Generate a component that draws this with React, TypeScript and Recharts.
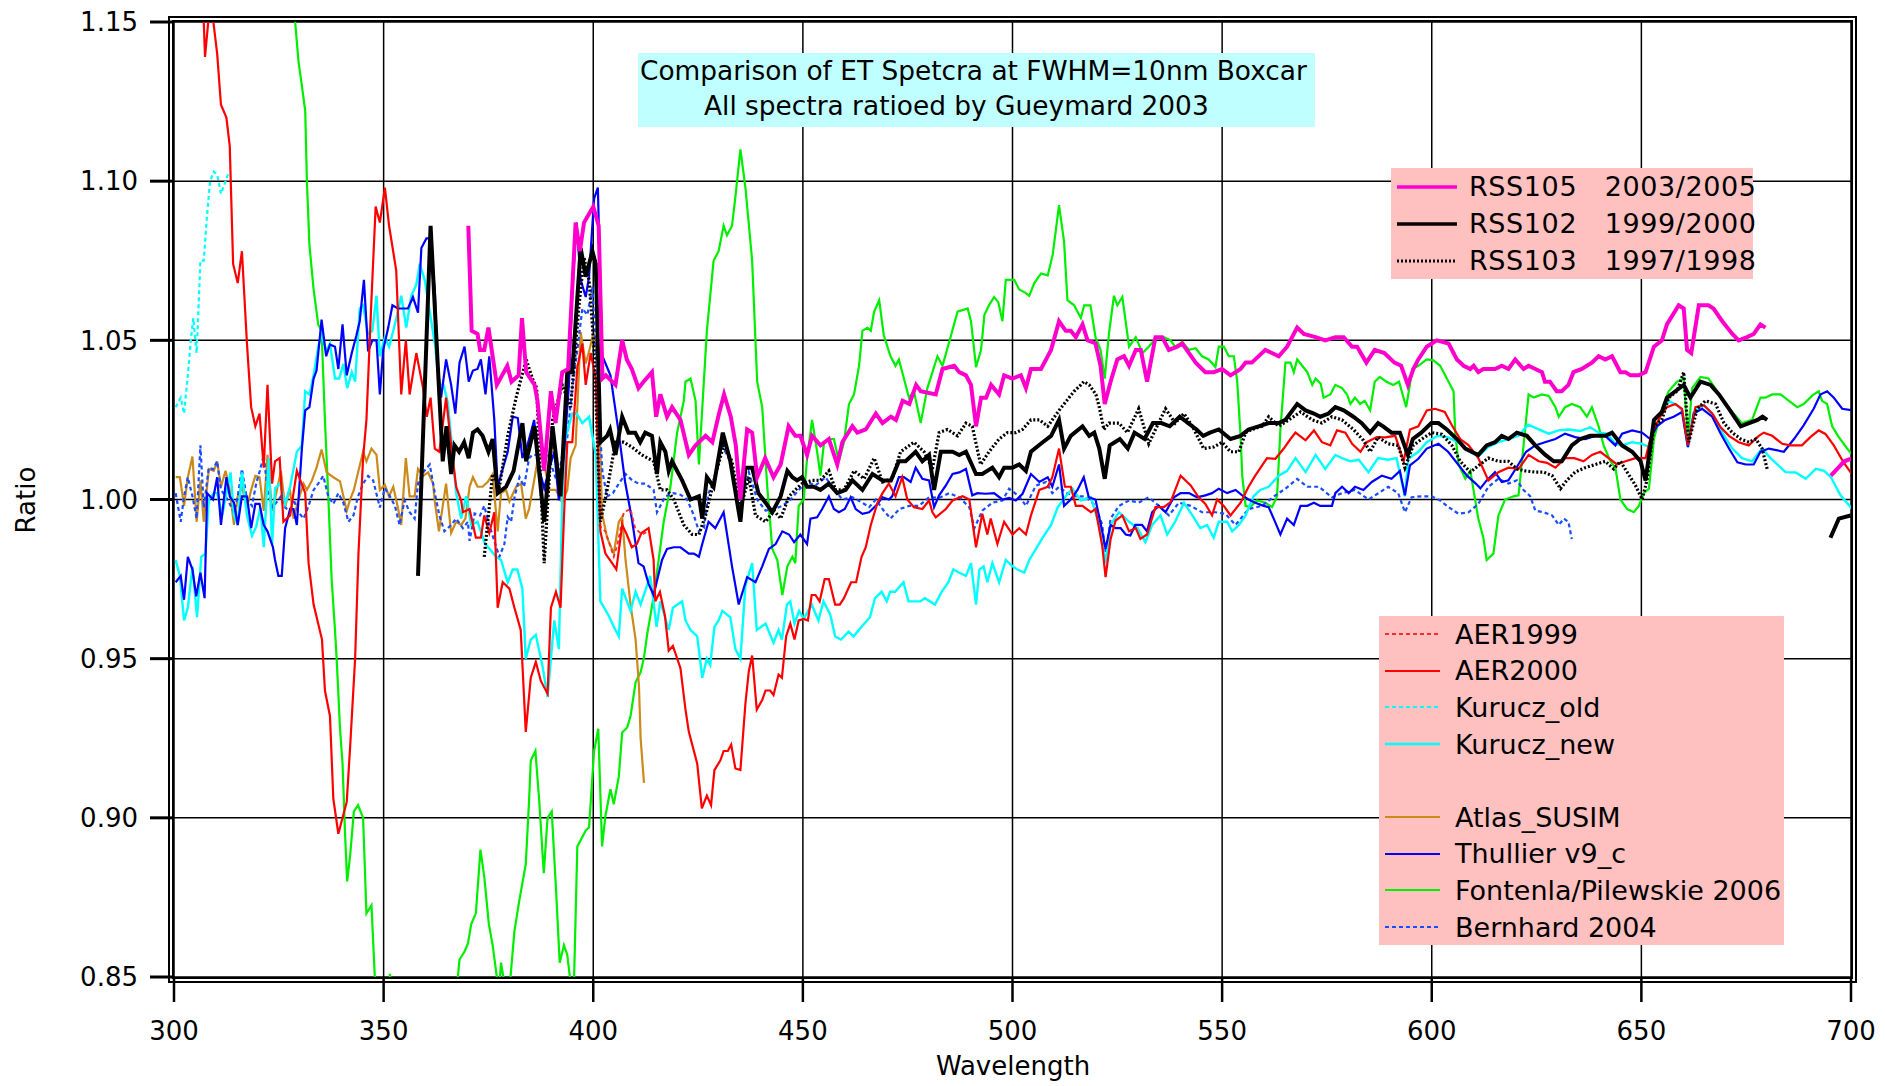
import { CartesianGrid, Line, LineChart, XAxis, YAxis } from 'recharts';

type Pt = [number, number | null];

const WL_TICKS = [300, 350, 400, 450, 500, 550, 600, 650, 700];
const RATIO_TICKS = [0.85, 0.9, 0.95, 1.0, 1.05, 1.1, 1.15];

// [wavelength nm, ratio]; null breaks the line
const RSS105: Pt[] = [
  [370.2,1.086],[371,1.053],[372.4,1.052],[373,1.047],[374,1.047],[375,1.054],[377,1.036],[379.5,1.042],[380.5,1.037],[382.2,1.039],
  [383,1.057],[384,1.040],[386,1.036],[386.7,1.031],[388.3,1.009],[389.9,1.034],[391,1.024],[392.6,1.040],[394,1.041],[395.8,1.087],
  [396.8,1.078],[397.8,1.087],[400,1.092],[401.3,1.086],[402.2,1.038],[403,1.039],[405.3,1.036],[406.9,1.050],[408,1.044],[409.2,1.041],
  [410.8,1.035],[412,1.037],[414,1.040],[415,1.026],[416,1.033],[417.6,1.026],[418.8,1.029],[420.8,1.025],[422.8,1.014],[424.4,1.017],
  [426.8,1.020],[428.4,1.018],[430,1.027],[431.2,1.033],[432.8,1.026],[434,1.017],[435.1,1.000],[436.7,1.022],[437.9,1.021],[439.1,1.007],
  [441,1.013],[443,1.007],[444.7,1.011],[446.6,1.023],[448.2,1.020],[449.4,1.020],[451,1.014],[452.2,1.020],[454.2,1.017],[456.2,1.019],
  [458.2,1.011],[459.4,1.018],[461.8,1.023],[463,1.021],[465,1.022],[467.4,1.027],[469,1.024],[471,1.026],[472.2,1.025],[473.8,1.031],
  [475.4,1.030],[477,1.036],[478.1,1.034],[481.7,1.033],[483.3,1.041],[486.1,1.042],[487.3,1.040],[488.9,1.039],[490.1,1.036],[491.3,1.023],
  [492.5,1.032],[493.7,1.032],[494.9,1.036],[496.8,1.033],[498,1.039],[500,1.038],[502,1.039],[503.2,1.035],[504.4,1.041],[506.8,1.041],
  [509.2,1.047],[511.1,1.056],[512.7,1.053],[513.9,1.053],[515.1,1.051],[516.7,1.055],[517.9,1.050],[519.8,1.049],[521,1.042],[522,1.030],
  [523.4,1.037],[525,1.044],[526.6,1.045],[527.8,1.042],[529.4,1.047],[530.6,1.047],[532.1,1.037],[534.1,1.051],[535.7,1.051],[537.3,1.047],
  [539.3,1.048],[540.5,1.049],[542.1,1.046],[543.7,1.043],[546,1.040],[548,1.040],[550,1.041],[552,1.039],[554.4,1.041],[555.6,1.043],
  [557.1,1.043],[560.3,1.047],[563.5,1.045],[565.5,1.048],[567.9,1.054],[569.5,1.052],[572.3,1.051],[574.6,1.050],[577,1.051],[579,1.051],
  [581,1.048],[582.2,1.048],[584.4,1.043],[586.4,1.047],[588.7,1.046],[591.1,1.043],[592.7,1.042],[594.3,1.036],[595.6,1.041],[596.8,1.044],
  [598.8,1.048],[601.2,1.050],[604,1.049],[606,1.044],[607.6,1.042],[609.2,1.041],[610,1.042],[611.1,1.040],[612.3,1.041],[615.1,1.041],
  [616.7,1.042],[618.3,1.041],[619.9,1.044],[621.9,1.041],[623.1,1.042],[624.7,1.041],[626.3,1.040],[627,1.037],[628.2,1.037],[629.8,1.034],
  [631,1.034],[632.6,1.036],[633.8,1.040],[635.8,1.041],[637,1.042],[638.2,1.043],[639.8,1.045],[641.4,1.044],[643,1.045],[645,1.040],
  [646.2,1.040],[647.4,1.039],[649.4,1.039],[651,1.040],[653,1.048],[654.9,1.050],[656.1,1.055],[658.9,1.061],[660.1,1.060],[660.9,1.047],
  [661.9,1.046],[663.7,1.061],[666,1.061],[667.2,1.060],[669.3,1.056],[671.7,1.052],[673.2,1.050],[675.2,1.051],[676.8,1.052],[678.4,1.055],
  [679.6,1.054],[688,null],[695.2,1.0075],[698.4,1.012],[700.4,1.013],
];

const RSS102: Pt[] = [
  [358.2,0.976],[361.2,1.086],[364.1,1.012],[365,1.023],[366.1,1.008],[366.9,1.017],[368,1.015],[369.2,1.018],[370.3,1.013],[371.3,1.021],
  [372.4,1.022],[373.6,1.020],[375,1.015],[376,1.019],[377.2,1.002],[379.2,1.004],[381,1.009],[383.1,1.024],[384,1.012],[386,1.023],
  [388.3,0.993],[390.3,1.023],[392.2,1.001],[393.8,1.040],[395,1.040],[397,1.079],[398.2,1.070],[399.8,1.078],[400.6,1.074],[401.7,1.018],
  [403.3,1.020],[404,1.022],[405.3,1.014],[406.9,1.026],[408.4,1.021],[410,1.021],[411.2,1.018],[412.4,1.021],[414,1.020],[415.2,1.008],
  [416,1.018],[417.2,1.015],[418,1.009],[418.8,1.012],[421.2,1.006],[423.2,1.000],[425.2,1.001],[426,0.994],[427.1,1.007],[428.7,1.004],
  [430.9,1.021],[432.7,1.012],[435.1,0.993],[436.3,1.010],[437.9,1.010],[439.4,1.002],[441.1,0.999],[442.7,0.996],[444.7,1.001],[446.3,1.009],
  [447.5,1.007],[448.6,1.006],[449.8,1.007],[451,1.004],[452.6,1.004],[454.2,1.003],[456.2,1.005],[458.2,1.002],[460.2,1.003],[461.8,1.006],
  [464.2,1.003],[466.6,1.008],[469,1.006],[471,1.006],[472.9,1.012],[474.5,1.012],[476.9,1.015],[478.5,1.012],[480.1,1.014],[481.3,1.003],
  [482.9,1.015],[485.7,1.015],[487.3,1.014],[488.9,1.015],[491.3,1.008],[492.8,1.008],[495.2,1.010],[496.8,1.007],[498,1.010],[500,1.010],
  [501.6,1.011],[503.2,1.009],[504.4,1.015],[507.2,1.018],[509.2,1.020],[511.1,1.025],[512.3,1.016],[513.9,1.020],[516.7,1.023],[518.3,1.020],
  [519.5,1.021],[520.7,1.016],[522,1.0065],[523.2,1.017],[524.4,1.018],[525.6,1.019],[527.5,1.016],[529.1,1.021],[531.5,1.019],[533.5,1.024],
  [535.5,1.024],[537.5,1.023],[539.9,1.026],[541.9,1.024],[543.9,1.022],[545.5,1.020],[547.1,1.021],[549.2,1.022],[552,1.019],[554.4,1.020],
  [556.3,1.022],[558.7,1.023],[561.1,1.024],[563.5,1.024],[565.1,1.025],[567.9,1.030],[569.9,1.028],[571.9,1.027],[573.4,1.026],[575.4,1.027],
  [577,1.029],[579,1.028],[581.3,1.026],[583.3,1.024],[585.3,1.021],[587.2,1.024],[588.4,1.023],[590.4,1.021],[592.4,1.021],[594.3,1.014],
  [595.5,1.019],[597.5,1.021],[599.9,1.024],[601.6,1.024],[603.6,1.022],[606,1.019],[608,1.016],[611.1,1.014],[613.1,1.017],[615.1,1.018],
  [616.7,1.020],[618.3,1.019],[620.3,1.021],[622.7,1.020],[624.7,1.017],[627.1,1.014],[629.1,1.012],[631,1.012],[633.4,1.017],[635.4,1.019],
  [637.8,1.020],[639.8,1.020],[641.4,1.020],[643,1.021],[645.4,1.017],[647.8,1.015],[649.8,1.012],[651,1.006],[653,1.025],[654.9,1.0275],
  [656.1,1.032],[658.1,1.034],[660.1,1.036],[661.7,1.032],[664.1,1.037],[666.5,1.036],[668.5,1.033],[670.9,1.0285],[673.7,1.023],[675.7,1.024],
  [677.7,1.025],[678.9,1.026],[680,1.025],[688,null],[695.1,0.988],[697.1,0.994],[699.9,0.995],
];

const RSS103: Pt[] = [
  [374,0.982],[376,1.008],[377.6,1.004],[379.6,1.020],[381.6,1.032],[384,1.044],[385.5,1.038],[386.5,1.035],[388.3,0.980],[390.3,1.025],
  [392.6,1.036],[394.6,1.029],[396.6,1.061],[397.8,1.076],[399,1.069],[400.2,1.047],[401.7,0.993],[403.3,1.003],[405.3,1.018],[407.3,1.018],
  [409.2,1.0165],[411.6,1.014],[414.4,1.012],[416,1.003],[417.6,1.003],[419.2,1.000],[421.6,0.992],[423.6,0.989],[425.2,0.989],[426.8,0.995],
  [428.7,1.0055],[431.1,1.017],[433.1,1.012],[435.1,0.997],[437.1,1.007],[438.7,0.995],[441.1,0.993],[443.1,0.9965],[444.7,0.994],[446.7,1.001],
  [448.2,1.003],[449.8,1.005],[452.2,1.006],[454.2,1.006],[456.2,1.009],[457.8,1.003],[459.8,1.003],[462.2,1.009],[464.6,1.0065],[467,1.013],
  [469,1.0055],[471.3,1.0065],[473.3,1.015],[476.5,1.018],[478.9,1.015],[480.9,1.0096],[482.5,1.021],[484.5,1.022],[486.9,1.020],[488.9,1.024],
  [490.4,1.023],[492.4,1.011],[494.4,1.015],[496.8,1.019],[498.8,1.021],[500.8,1.021],[502.4,1.022],[504.4,1.025],[506.4,1.025],[508.4,1.023],
  [511.1,1.028],[513.5,1.032],[514.7,1.034],[516.3,1.036],[517,1.037],[518.3,1.036],[519.9,1.033],[520.7,1.029],[521.8,1.022],[523,1.024],
  [525.4,1.024],[527.4,1.021],[530.1,1.0285],[532.5,1.0175],[534.1,1.022],[536.5,1.0285],[538.8,1.024],[540.9,1.027],[542.9,1.023],[545.6,1.016],
  [548,1.0165],[550,1.018],[552,1.015],[554,1.015],[555.6,1.021],[557.1,1.022],[559.5,1.023],[561.1,1.026],[563.5,1.023],[565.9,1.025],
  [568.7,1.0275],[571.5,1.025],[573.8,1.024],[576.2,1.026],[578.6,1.025],[581.3,1.022],[583.7,1.0186],[585.3,1.015],[587.2,1.0196],[589.6,1.0175],
  [592,1.017],[593.6,1.010],[595.6,1.017],[597.6,1.019],[600,1.021],[602.4,1.0205],[604.8,1.017],[606.8,1.012],[609.2,1.0086],[611.5,1.011],
  [613.5,1.013],[615.9,1.012],[618.3,1.012],[620.3,1.0096],[622.3,1.009],[624.7,1.0086],[626.7,1.0086],[628.7,1.0075],[630.7,1.0034],[632.2,1.006],
  [634.2,1.0086],[636.6,1.010],[639,1.011],[641.4,1.012],[643.4,1.0096],[645,1.012],[646.6,1.0086],[648.6,1.0044],[650.2,1.000],[651.4,1.0065],
  [653,1.023],[654.9,1.025],[656.5,1.032],[658.5,1.034],[660.1,1.040],[661.3,1.018],[663.3,1.0285],[665.3,1.031],[667.7,1.030],[669.7,1.024],
  [671.7,1.021],[673.7,1.019],[675.7,1.018],[677.3,1.019],[678.8,1.016],[680,1.0096],
];

const AER1999: Pt[] = [
  [401.3,0.992],[402.9,0.990],[404.9,0.982],[405.7,0.9855],[407.3,0.996],[408.9,0.997],[410,0.991],[411.6,0.989],[413,0.990],
];

const AER2000: Pt[] = [
  [306.6,1.17],[307.1,1.150],[307.4,1.139],[308.3,1.152],[309.3,1.151],[310.3,1.140],[311.2,1.124],[312.5,1.120],[313.3,1.111],[314.1,1.074],
  [315.2,1.068],[316.2,1.078],[317.4,1.049],[318.4,1.029],[319.4,1.023],[320.4,1.027],[321.4,1.010],[322.3,1.036],[323.4,1.005],[324.1,1.012],
  [325.2,1.013],[326.1,0.993],[327.7,0.995],[329.3,1.009],[331.3,1.002],[332.1,0.980],[333.3,0.967],[335.3,0.956],[336,0.940],[337.2,0.932],
  [338,0.906],[339.2,0.895],[341.2,0.905],[342,0.922],[343.2,0.950],[344,0.983],[345.1,1.013],[345.9,1.025],[347.1,1.063],[348.1,1.092],
  [349.1,1.087],[350.3,1.098],[351.3,1.086],[353,1.072],[354.2,1.033],[355.3,1.050],[356.2,1.033],[357.8,1.046],[359.4,1.035],[360.3,1.026],
  [361.2,1.032],[362.2,1.016],[363.3,1.015],[364.9,1.032],[366.1,1.017],[367.3,1.004],[368.5,0.9996],[368.9,0.996],[370.5,0.997],[372,0.988],
  [373.2,0.988],[374,0.995],[375.2,0.9895],[376.4,0.996],[377.2,0.966],[378.4,0.974],[380,0.972],[381.2,0.966],[382.7,0.959],[383.9,0.927],
  [385.1,0.944],[386.3,0.949],[387.5,0.943],[389.1,0.939],[389.9,0.966],[391.1,0.971],[392.2,0.966],[393,0.994],[393.8,1.018],[395,1.018],
  [396.2,1.0415],[397.4,1.049],[398.2,1.036],[399.4,1.046],[400.6,1.038],[401.7,0.990],[402.9,0.983],[404.5,0.980],[405.5,0.978],[406.9,0.992],
  [408,0.989],[409.2,0.985],[410.4,0.986],[411.5,0.9895],[413.2,0.991],[414.4,0.981],[414.8,0.968],[415.9,0.971],[417.1,0.9635],[418,0.9525],
  [419,0.954],[420.8,0.947],[422,0.934],[422.8,0.927],[424.8,0.917],[425.9,0.903],[427.1,0.907],[428.1,0.904],[428.9,0.915],[430.3,0.918],
  [431.1,0.921],[432.1,0.921],[432.9,0.923],[433.9,0.9155],[435.1,0.915],[436.3,0.936],[437.1,0.946],[437.9,0.951],[439,0.934],[440.3,0.937],
  [441.1,0.940],[442.2,0.940],[443,0.9386],[444.2,0.945],[445,0.944],[446,0.957],[447,0.961],[448,0.956],[449,0.962],[450.2,0.9625],
  [451.2,0.962],[452.1,0.970],[453,0.970],[454,0.968],[455.2,0.975],[456.2,0.975],[457.7,0.967],[458.8,0.967],[459.8,0.969],[461.5,0.974],
  [462.7,0.974],[464,0.982],[465,0.985],[466.2,0.992],[467.8,0.999],[469,1.002],[470.5,1.005],[472.1,1.001],[473.7,1.007],[474.9,1.000],
  [476.5,0.9976],[478.5,0.997],[480.1,0.9997],[480.9,0.996],[481.7,0.9944],[484.1,0.997],[485.7,0.9997],[488.1,1.001],[489.7,1.000],[491.3,0.985],
  [492.8,0.9955],[494,0.989],[494.8,0.994],[496.4,0.986],[498,0.993],[500,0.989],[501.6,0.991],[503.2,0.989],[504.4,0.995],[506.4,1.003],
  [508.4,1.004],[509.5,1.007],[511.1,1.016],[512.5,1.004],[513.9,1.004],[515.1,0.998],[516.7,0.998],[518.7,0.996],[519.8,0.997],[521.4,0.9855],
  [522.2,0.9756],[523.4,0.9876],[524.6,0.9934],[526.2,0.995],[527.8,0.990],[529.4,0.991],[530.5,0.9876],[532.1,0.989],[534.1,0.9976],[536.1,0.9976],
  [537.7,0.9992],[540.1,1.0075],[542.5,1.0044],[544.4,1.0007],[546,0.9986],[547.6,0.995],[548.8,1.000],[550.4,0.998],[552,0.995],[554.4,0.999],
  [556.3,1.004],[557.9,1.0075],[560.7,1.013],[562.7,1.0128],[564.7,1.016],[566.3,1.019],[567.5,1.021],[569.9,1.0186],[571.9,1.0217],[573.8,1.018],
  [575.8,1.017],[577.4,1.0217],[579.4,1.021],[581,1.0175],[583,1.015],[584.5,1.018],[586.9,1.0196],[588.9,1.0195],[591.3,1.020],[593.3,1.012],
  [594.8,1.022],[596.8,1.023],[598.8,1.028],[600.8,1.0285],[603.1,1.0275],[604.8,1.0233],[606.8,1.019],[608.8,1.017],[611.1,1.013],[613.5,1.006],
  [615.9,1.0086],[618.3,1.010],[620.7,1.0096],[623.1,1.014],[625.5,1.012],[627.5,1.0115],[629.5,1.010],[631.8,1.013],[634,1.013],[636.2,1.012],
  [638.2,1.014],[640.2,1.015],[642.2,1.013],[644.2,1.011],[646.2,1.012],[648.6,1.013],[651,1.013],[652.5,1.021],[654.5,1.026],[656.1,1.029],
  [658.1,1.030],[659.7,1.0285],[661.1,1.017],[662.9,1.029],[664.9,1.0296],[666.9,1.027],[668.9,1.0227],[670.9,1.020],[673.2,1.018],[675.6,1.017],
  [678,1.020],[679.2,1.021],[681.2,1.020],[683.6,1.0175],[685.5,1.017],[688.3,1.017],[690.3,1.0196],[692.3,1.0217],[693.9,1.0206],[695.9,1.017],
  [698.2,1.0117],[700.2,1.008],
];

const KURUCZ_OLD: Pt[] = [
  [300.4,1.029],[301.6,1.032],[302.4,1.027],[303.3,1.039],[304,1.050],[304.6,1.057],[305.4,1.046],[306.3,1.075],[307.1,1.075],[307.8,1.088],
  [308.6,1.100],[309.5,1.103],[310.3,1.102],[311.2,1.096],[312.3,1.100],[313.1,1.103],
];

const KURUCZ_NEW: Pt[] = [
  [300.4,0.981],[301.4,0.976],[302.4,0.962],[303.3,0.966],[304.4,0.979],[305.5,0.963],[306.5,0.982],[307.5,0.983],[308.3,1.000],[309.5,1.002],
  [310.3,1.002],[311.5,0.995],[312.5,1.002],[313.5,1.0085],[314.3,0.995],[315.2,0.992],[316.2,1.0085],[317.4,0.995],[318.6,0.9886],[319.6,0.9914],
  [320.6,0.9975],[321.4,0.985],[322.6,1.013],[323.4,0.986],[324.1,1.0035],[325.3,1.005],[326.5,0.9986],[327.7,1.004],[329.3,1.015],[330.5,1.017],
  [331.3,1.034],[332.3,1.033],[333.3,1.039],[334.4,1.048],[335.2,1.052],[336.3,1.0465],[337.2,1.049],[338.4,1.038],[339.4,1.038],[340.4,1.0426],
  [341.3,1.035],[342.4,1.040],[343.2,1.037],[344.3,1.060],[345.1,1.061],[346.3,1.052],[347.3,1.053],[348.3,1.064],[349.1,1.045],[350.3,1.051],
  [351.3,1.048],[352.3,1.053],[353.4,1.059],[354.2,1.064],[355.4,1.054],[356.6,1.064],[357.8,1.0675],[358.6,1.074],[359.8,1.069],[361,1.059],
  [362.2,1.049],[363.3,1.036],[364.3,1.036],[365.3,1.0305],[366.1,1.0195],[367.3,1.002],[368.5,0.994],[369.7,1.001],[370.9,0.992],[372.4,0.993],
  [374.2,0.986],[375.6,0.984],[376.8,0.982],[378,0.981],[379.6,0.974],[380.8,0.978],[381.9,0.978],[383.1,0.972],[383.9,0.950],[385.1,0.956],
  [386.3,0.9575],[387.9,0.9476],[389.1,0.938],[390.7,0.962],[391.8,0.953],[392.6,1.000],[393.5,1.020],[395,1.027],[396,1.027],[397.4,1.024],
  [399,1.026],[400.6,1.014],[401.7,0.968],[403.7,0.9635],[404.9,0.960],[406.1,0.957],[406.9,0.972],[408.9,0.965],[410.1,0.971],[411.3,0.967],
  [413.6,0.976],[415.1,0.960],[416,0.968],[418,0.959],[419,0.966],[421.2,0.968],[422,0.962],[423.2,0.959],[424.8,0.957],[426,0.944],
  [427.1,0.950],[427.9,0.948],[428.9,0.960],[429.9,0.962],[430.8,0.965],[432.7,0.963],[433.9,0.953],[435.1,0.950],[436.3,0.973],[437.9,0.980],
  [439,0.959],[441.1,0.961],[443,0.955],[444.2,0.959],[445,0.956],[446.2,0.967],[447,0.968],[448,0.961],[449.1,0.965],[450.2,0.9625],
  [452.1,0.967],[453.7,0.962],[454.9,0.968],[456.5,0.964],[457.7,0.957],[459.1,0.956],[460.9,0.9585],[462.1,0.957],[464,0.960],[466,0.963],
  [467.2,0.969],[468.8,0.971],[470,0.968],[470.8,0.971],[472,0.971],[474,0.974],[475.2,0.968],[476.4,0.968],[478,0.968],[479.1,0.969],
  [480.3,0.968],[481.5,0.967],[483.1,0.971],[484.7,0.974],[485.9,0.978],[487.3,0.977],[488.9,0.976],[490.1,0.980],[491.3,0.967],[492.1,0.978],
  [493.1,0.979],[494,0.974],[495.2,0.980],[496.8,0.974],[498.4,0.981],[500,0.979],[501.2,0.978],[502.8,0.977],[504,0.981],[505.6,0.9845],
  [507.2,0.988],[509.2,0.992],[510.8,0.9976],[511.6,0.999],[512.7,1.001],[514.3,1.0034],[516.3,0.9997],[518.7,1.0007],[520.6,0.9923],[522.2,0.980],
  [523.4,0.992],[525.4,0.996],[527.8,0.993],[529.8,0.991],[531.7,0.9866],[533.3,0.992],[535.3,0.995],[536.9,0.989],[538.8,0.993],[540.9,0.999],
  [542.9,0.995],[544.8,0.991],[546.4,0.992],[548,0.988],[549.2,0.993],[551.2,0.993],[552.4,0.990],[554,0.992],[555.6,0.995],[557.5,1.001],
  [559.1,1.003],[561.1,1.004],[563.5,1.0075],[565.5,1.009],[567.5,1.013],[569.9,1.0086],[572.3,1.014],[574.6,1.0096],[577,1.014],[578.6,1.013],
  [580.6,1.012],[582.6,1.0125],[584.9,1.0086],[587.2,1.013],[589.6,1.0125],[591.6,1.013],[593.6,1.001],[594.4,1.0128],[596.8,1.015],[598.8,1.018],
  [601.4,1.020],[603.9,1.0195],[606.3,1.018],[608.7,1.0154],[611.1,1.0135],[613.5,1.0165],[615.9,1.018],[618.3,1.019],[620.7,1.020],[623,1.0235],
  [625.5,1.022],[627.9,1.0207],[630.3,1.0217],[632.6,1.022],[635.4,1.0215],[637.8,1.0227],[639.8,1.021],[641.8,1.0207],[643.8,1.0175],[645.4,1.017],
  [647.8,1.018],[650.2,1.0175],[651.8,1.0165],[653.3,1.025],[654.9,1.027],[656.5,1.031],[658.5,1.0296],[659.7,1.028],[661.1,1.0165],[662.5,1.0275],
  [664.9,1.0296],[667.2,1.0264],[669.3,1.021],[671.7,1.016],[674,1.013],[676.4,1.012],[678.8,1.016],[680.8,1.013],[684.4,1.0086],[686.8,1.0085],
  [689.2,1.0065],[691.6,1.0096],[693.6,1.009],[695.2,1.007],[697.5,1.0013],[700.3,0.997],
];

const ATLAS_SUSIM: Pt[] = [
  [300.4,1.007],[301.4,1.007],[302.4,0.998],[303.3,1.007],[304.4,1.0135],[305.4,0.993],[306.3,1.006],[307.1,0.993],[308.3,1.0096],[309.5,1.009],
  [310.3,1.012],[311.2,1.004],[312.3,1.009],[313.3,1.003],[314.3,0.992],[315.2,1.001],[316.2,1.004],[317.4,0.9975],[318.4,1.003],[319.4,1.0074],
  [320.4,1.007],[321.4,0.9964],[322.3,1.014],[323.4,0.9964],[324.4,1.002],[325.5,1.009],[326.5,0.9975],[327.6,1.0035],[328.5,0.994],[329.7,1.000],
  [330.9,1.005],[331.7,1.003],[332.9,1.006],[334,1.010],[335.2,1.0157],[336.4,1.0085],[338,1.007],[339.6,1.0057],[341.2,0.9964],[342,1.000],
  [342.9,1.003],[343.9,1.0085],[345.1,1.015],[345.9,1.012],[347.1,1.016],[348.3,1.014],[349.1,1.003],[350.3,1.0046],[351.3,1.001],[352.3,1.004],
  [353.4,0.9975],[354.2,0.992],[355.3,1.013],[356.2,1.001],[357.4,1.001],[358.2,1.0096],[359.4,1.0074],[360.6,1.0085],[361.8,1.005],[362.2,0.9994],
  [363.2,0.990],[364.9,1.005],[366.1,0.9895],[367.3,0.993],[368.5,0.992],[369.5,0.994],[370.5,1.004],[371.3,1.007],[372.4,1.004],[373.6,1.004],
  [374.8,1.0055],[376,1.008],[377.2,0.990],[378,1.002],[379.2,1.003],[380,0.9994],[381.6,1.004],[382.8,1.005],[383.9,0.994],[384.7,0.997],
  [385.5,1.003],[386.7,1.012],[387.9,1.014],[389.5,1.003],[391.1,1.003],[392.6,0.999],[393.8,1.003],[394.6,1.013],[395.8,1.017],[397,1.0526],
  [398.2,1.0427],[399,1.0465],[400,1.052],[401,1.045],[401.7,1.014],[402.1,0.9956],[403.3,0.988],[404.9,0.983],[406.1,0.993],[406.9,0.9945],
  [407.7,0.981],[408.9,0.967],[410.1,0.956],[410.9,0.9415],[411.3,0.925],[412.1,0.911],
];

const THUILLIER: Pt[] = [
  [300.4,0.974],[301.6,0.976],[302.4,0.9685],[303.3,0.982],[304.4,0.978],[305.3,0.9696],[306.3,0.977],[307.3,0.969],[307.9,1.002],[309.3,1.000],
  [310.3,1.007],[311.2,0.992],[312.5,1.007],[313.3,1.001],[314.3,0.999],[315.2,0.992],[316.2,1.001],[317.4,1.001],[318.4,0.991],[319.4,0.9986],
  [320.4,0.9986],[321.4,0.992],[322.3,0.990],[323.6,0.985],[324.1,0.981],[324.9,0.976],[325.7,0.976],[326.5,0.991],[327.7,0.997],[328.5,0.997],
  [329.3,0.992],[330.5,1.016],[331.3,1.028],[332.3,1.029],[333.3,1.038],[334,1.0405],[335.2,1.0565],[336.3,1.045],[337.2,1.0487],[338.4,1.048],
  [339.2,1.041],[340.2,1.055],[341.2,1.039],[342.4,1.046],[343.5,1.0515],[344.3,1.056],[345.3,1.069],[346.3,1.0465],[347.3,1.050],[348.3,1.050],
  [349.1,1.033],[349.9,1.047],[351.1,1.054],[352.1,1.061],[353.4,1.060],[354.6,1.060],[355.8,1.060],[357,1.0636],[358.2,1.0587],[359,1.079],
  [360.2,1.082],[361,1.082],[362.2,1.066],[362.9,1.042],[363.7,1.032],[364.9,1.044],[366.1,1.036],[367.1,1.027],[368.1,1.043],[369.3,1.048],
  [370.3,1.037],[371.3,1.0405],[372.4,1.041],[373.2,1.044],[374.3,1.033],[375.2,1.045],[376.4,1.025],[377.2,1.004],[378.4,1.0096],[379.6,1.015],
  [380.8,1.026],[382,1.0256],[383.1,1.013],[384.3,1.017],[385.9,1.025],[387.1,1.0096],[388.3,1.0035],[389.5,1.0096],[390.7,1.015],[391.8,0.9997],
  [393,1.014],[394.2,1.036],[395,1.065],[396,1.087],[397,1.069],[398.2,1.0636],[399,1.070],[400.2,1.0945],[401.1,1.098],[402.1,1.0453],
  [404.1,1.039],[406.1,1.0207],[407.6,1.0055],[409.2,0.994],[410.8,0.980],[412,0.979],[413.2,0.9735],[414.4,0.970],[415.2,0.9745],[416.4,0.981],
  [417.6,0.9845],[419.2,0.985],[420.8,0.985],[422.8,0.983],[424,0.983],[425.2,0.982],[426,0.986],[427.5,0.993],[429.1,0.991],[431.1,0.996],
  [433.1,0.979],[434.7,0.967],[436.7,0.9756],[438.7,0.974],[440.3,0.979],[441.9,0.9845],[443.5,0.986],[445.1,0.990],[446.7,0.989],[447.9,0.9866],
  [449.4,0.989],[451,0.986],[451.8,0.994],[453.4,0.9944],[454.6,0.997],[456.2,1.001],[457.4,0.997],[458.6,0.996],[460,0.997],[461.4,1.0007],
  [462.6,0.997],[464.2,0.9955],[465.8,0.996],[467.4,0.998],[469,1.0007],[470.5,1.000],[471.3,1.001],[472.9,1.007],[474.1,1.007],[475.7,1.0055],
  [476.9,1.010],[478.5,1.0065],[480.1,1.006],[481.3,0.9976],[482.5,1.0013],[484.1,1.0044],[485.7,1.008],[487.3,1.0085],[488.9,1.0096],[490.4,1.0013],
  [491.6,1.002],[493.6,1.0018],[495.6,1.002],[497.6,1.000],[499.2,1.0005],[500.8,0.9997],[502.4,1.0018],[504.4,1.008],[506.4,1.0055],[508.4,1.007],
  [509.5,1.004],[511.1,1.011],[512.3,0.998],[513.9,1.000],[515.5,1.003],[517,1.007],[518.2,1.0007],[519.8,1.000],[521.4,0.990],[522.2,0.9845],
  [523.4,0.992],[524.6,0.991],[525.8,0.991],[527,0.989],[528.1,0.9887],[529.3,0.992],[530.9,0.992],[532.1,0.990],[533.3,0.996],[534.9,0.998],
  [536.5,0.996],[538.5,1.0007],[540.1,1.002],[542.1,1.002],[544,1.0007],[546,1.0013],[547.6,1.002],[549.2,1.0034],[551.2,1.002],[553.2,1.003],
  [554.8,1.0013],[556.3,1.000],[557.9,0.999],[559.9,0.998],[561.1,0.9976],[562.3,0.994],[563.9,0.989],[565.5,0.994],[567.1,0.992],[568.7,0.998],
  [570.3,0.998],[571.9,0.999],[573.4,0.998],[575,0.998],[576.2,0.998],[577,1.002],[578.6,1.004],[580.2,1.002],[581.7,1.004],[583.7,1.003],
  [585.7,1.0055],[588.1,1.0075],[590.4,1.0065],[592.4,1.009],[593.6,1.0013],[594.8,1.0107],[596.8,1.0128],[598.8,1.016],[601.6,1.0175],[603.9,1.015],
  [606.3,1.011],[608.4,1.0075],[610.5,1.005],[611.6,1.0035],[613.1,1.006],[615.1,1.0086],[616.7,1.0055],[618.3,1.006],[620.3,1.0102],[622.5,1.015],
  [624.7,1.017],[627,1.018],[629.5,1.019],[631.8,1.0207],[634.2,1.0196],[636.6,1.019],[639,1.020],[641.4,1.020],[643.8,1.017],[645.4,1.0207],
  [647.8,1.0217],[650.2,1.021],[652.1,1.019],[653.7,1.023],[655.7,1.025],[657.7,1.026],[659.7,1.0275],[661.1,1.0165],[662.5,1.027],[664.5,1.0285],
  [666.9,1.026],[668.9,1.0207],[670.9,1.016],[672.9,1.0117],[674.9,1.011],[676.8,1.011],[678.4,1.015],[680.4,1.016],[684,1.015],[686.4,1.019],
  [688.7,1.0233],[691.1,1.0285],[692.7,1.033],[694.3,1.034],[695.9,1.032],[697.9,1.0285],[700.2,1.028],
];

const FONTENLA: Pt[] = [
  [328.5,1.16],[328.9,1.150],[329.7,1.1375],[330.5,1.130],[331.3,1.122],[331.7,1.100],[332.3,1.080],[333.3,1.066],[334.4,1.055],[335.2,1.053],
  [336,1.025],[336.8,1.001],[337.6,0.975],[338.4,0.959],[338.8,0.950],[339.6,0.928],[340.2,0.917],[340.8,0.895],[341.3,0.880],[342,0.888],
  [342.9,0.902],[343.9,0.904],[345.1,0.900],[345.9,0.870],[347.1,0.8725],[347.9,0.850],[349,0.838],[350.5,0.835],[351.5,0.851],[352.5,0.838],
  [355,0.825],[360,0.822],[365,0.830],[367.7,0.850],[368.1,0.8555],[369.3,0.858],[370.1,0.8605],[370.9,0.8666],[372,0.870],[373.1,0.890],
  [374,0.8815],[375.1,0.8666],[376,0.860],[377,0.850],[377.5,0.845],[378,0.8545],[378.8,0.848],[380,0.846],[381.2,0.8644],[382.4,0.8743],
  [383.9,0.8854],[384.7,0.9056],[385.1,0.918],[386.2,0.921],[387.1,0.9056],[388.2,0.8826],[389.1,0.900],[390.1,0.902],[391.1,0.878],[392,0.8545],
  [393,0.860],[393.8,0.857],[394.6,0.848],[395.4,0.848],[396.2,0.891],[397,0.893],[398.2,0.896],[399,0.897],[400.2,0.921],[401.2,0.928],
  [402.1,0.891],[402.9,0.9006],[404.1,0.909],[404.9,0.9043],[406.1,0.913],[406.9,0.9268],[408.1,0.9284],[408.9,0.932],[410.1,0.9426],[411.3,0.9457],
  [412.1,0.9504],[412.9,0.958],[413.7,0.964],[414.8,0.973],[415.6,0.981],[416.8,0.993],[418.4,1.004],[420,1.021],[421.6,1.031],[422,1.037],
  [423.2,1.038],[424.4,1.031],[425.2,1.011],[426,1.0285],[427.1,1.053],[428.7,1.075],[429.9,1.078],[431.1,1.086],[431.9,1.083],[433.1,1.086],
  [433.9,1.095],[435.1,1.110],[436.3,1.098],[437.9,1.075],[439.1,1.037],[440.3,1.029],[441.5,1.004],[442.7,0.9845],[443.9,0.981],[445.1,0.970],
  [446.3,0.979],[447.5,0.982],[448.2,0.980],[449,0.998],[450.2,1.000],[451,1.013],[452.2,1.025],[453.4,1.015],[454.2,1.0075],[455,1.0175],
  [456.2,1.019],[457.4,1.019],[458.6,1.012],[459.8,1.018],[461,1.030],[462.2,1.033],[463.4,1.042],[464.2,1.053],[465.4,1.054],[466.2,1.053],
  [467,1.059],[468.2,1.0626],[469.3,1.0516],[470.9,1.045],[472.1,1.042],[472.9,1.044],[474.1,1.038],[475.3,1.032],[476.5,1.034],[478.1,1.024],
  [479.7,1.035],[480.9,1.040],[482.1,1.045],[483.3,1.042],[484.9,1.0495],[486.9,1.059],[489.3,1.060],[490.1,1.056],[491.3,1.0416],[492.5,1.047],
  [493.3,1.058],[494.4,1.061],[495.6,1.0636],[496.6,1.062],[497.6,1.056],[498.4,1.069],[500.4,1.069],[501.6,1.066],[503,1.065],[504,1.064],
  [505.2,1.068],[506.8,1.071],[508.4,1.0704],[509.6,1.077],[511.1,1.0925],[512.3,1.081],[513.1,1.0626],[514.7,1.061],[516.3,1.057],[517.1,1.061],
  [518.6,1.061],[519.8,1.051],[521,1.047],[522,1.038],[523,1.052],[524.2,1.064],[525,1.061],[526.2,1.0636],[527.8,1.048],[529.4,1.051],
  [531,1.046],[532.5,1.048],[534.1,1.0505],[536.1,1.051],[537.7,1.050],[538.8,1.048],[540.5,1.0495],[542.1,1.047],[543.7,1.0475],[545.2,1.045],
  [546.8,1.044],[548.4,1.0416],[549.2,1.048],[550.4,1.048],[551.6,1.045],[552.8,1.045],[553.6,1.037],[554.4,1.020],[554.8,1.0075],[555.6,0.998],
  [556.7,0.9976],[558.3,0.9997],[560.3,0.999],[561.9,0.9976],[563.1,1.001],[563.9,1.022],[565.1,1.043],[566.3,1.043],[567.1,1.040],[567.9,1.044],
  [569.1,1.042],[570.3,1.040],[571.5,1.036],[572.3,1.038],[573.5,1.0364],[574.2,1.032],[575.8,1.033],[577,1.036],[578.6,1.035],[579.8,1.033],
  [580.6,1.030],[581.7,1.032],[582.9,1.030],[584,1.031],[585.3,1.028],[586.4,1.037],[587.6,1.0385],[589.2,1.037],[590.8,1.036],[592.2,1.037],
  [593.9,1.029],[595.4,1.041],[596.8,1.042],[598.8,1.044],[600.4,1.0437],[602,1.042],[603.6,1.038],[605.2,1.034],[605.6,1.021],[606.4,1.011],
  [608,1.0065],[609.2,1.009],[611.1,0.994],[612.3,0.988],[613.1,0.981],[614.7,0.983],[615.9,0.995],[617.5,1.000],[619.5,1.001],[620.7,1.0013],
  [621.9,1.017],[623.1,1.033],[624.3,1.032],[626.3,1.033],[627.9,1.0325],[629.5,1.029],[630.3,1.026],[631.8,1.029],[633.4,1.030],[635.4,1.029],
  [637,1.026],[638.2,1.029],[639.8,1.023],[641,1.017],[642.6,1.012],[643.8,1.010],[645,1.000],[646.6,0.997],[648.2,0.996],[649.4,0.998],
  [650.6,1.002],[651.8,1.0034],[653,1.019],[654.9,1.0285],[656.5,1.034],[658.5,1.037],[660.1,1.038],[661.1,1.019],[662.1,1.035],[664.1,1.0385],
  [666,1.038],[667.6,1.035],[669.6,1.031],[671.7,1.0275],[674,1.024],[676.4,1.025],[678.4,1.032],[679.6,1.032],[681.2,1.033],[683.2,1.033],
  [685.2,1.031],[687.2,1.029],[688.7,1.030],[690.8,1.0327],[692.3,1.034],[693.1,1.031],[694.3,1.030],[695.5,1.023],[697.1,1.0196],[699.1,1.016],
  [700.3,1.014],
];

const BERNHARD: Pt[] = [
  [300.4,1.002],[301.6,0.993],[302.4,1.001],[303.3,1.007],[304.4,1.001],[305.4,0.994],[306.3,1.017],[307.1,0.9975],[308.3,1.010],[309.3,1.0095],
  [310.3,1.012],[311.2,1.003],[312.3,1.001],[313.3,0.9986],[314.3,0.996],[315.2,1.001],[316.2,1.0096],[317.4,1.000],[318.6,0.998],[319.6,1.005],
  [320.6,1.0096],[321.4,1.014],[322.3,1.003],[323.4,0.9975],[324.4,0.999],[325.5,1.001],[326.5,0.9975],[327.6,0.9964],[328.5,1.000],[329.7,0.996],
  [330.9,0.994],[332.1,0.998],[333.3,1.003],[334.4,1.005],[335.6,1.0074],[336.8,1.001],[338,0.9986],[339.2,1.002],[340.4,0.999],[341.6,0.993],
  [342.8,0.995],[343.9,1.001],[345.1,1.005],[346.3,1.0074],[347.5,1.006],[349.1,0.9975],[350.3,1.0035],[351.5,1.001],[352.7,0.998],[353.8,0.992],
  [355,0.9997],[356.2,0.996],[357.4,0.994],[358.2,1.005],[359.4,1.0085],[361,1.011],[362.2,1.002],[363.3,0.995],[364.5,0.990],[366.1,0.992],
  [367.3,0.994],[368.9,0.991],[370.1,0.993],[370.5,0.987],[371.7,0.9956],[373,0.995],[374,0.998],[375.2,0.992],[376.4,0.987],[377.6,0.982],
  [378.8,0.986],[379.6,0.9945],[380.4,0.993],[381.2,1.0006],[382.4,1.007],[383.5,1.004],[384.7,1.013],[385.5,1.014],[386.3,1.014],[387.5,1.014],
  [388.7,1.016],[390.3,1.0096],[391.5,1.005],[392.6,1.014],[393.8,1.0195],[395,1.035],[396.2,1.047],[397.4,1.060],[398.6,1.058],[399.8,1.067],
  [401,1.036],[402.2,1.0085],[403.3,1.001],[404.7,1.002],[406.1,1.005],[407.7,1.008],[409.3,1.006],[410.8,1.005],[412.4,1.005],[414.4,1.003],
  [415.2,0.996],[417.2,1.001],[419.2,1.002],[420.8,1.0015],[422.4,1.000],[424,0.995],[425.2,0.990],[426.4,0.991],[427.5,1.002],[428.7,1.0055],
  [430.7,1.017],[432.7,1.012],[435.1,0.997],[437.1,1.0086],[439.1,1.000],[441.1,0.9965],[443.1,0.997],[445.1,0.998],[447.1,1.000],[449,1.003],
  [451,1.0055],[453,1.0044],[455.4,1.007],[457,1.004],[459.4,1.000],[461.8,1.0007],[464.2,0.999],[465.8,0.9976],[467.4,1.000],[469,0.997],
  [470.9,0.994],[473,0.997],[475.4,0.998],[477.7,0.998],[480.1,1.0007],[482.5,1.0005],[484.9,1.002],[487.3,1.0007],[489.7,0.9976],[490.9,0.991],
  [492.8,0.9965],[495.2,0.999],[497.6,0.9997],[499.2,1.0034],[501.6,1.001],[503.2,0.998],[505.6,1.0044],[508,1.0055],[509.5,1.002],[511.1,1.004],
  [513,1.002],[515.1,1.001],[517.4,1.001],[519.8,0.998],[521.4,0.992],[522.2,0.982],[523.4,0.994],[525.4,0.998],[527.8,0.9997],[530.1,0.999],
  [532.5,1.0007],[534.9,0.998],[537.3,0.995],[539.7,0.999],[542.5,0.998],[545.2,0.996],[548.4,0.996],[550.8,0.9955],[553.2,0.992],[556.3,0.997],
  [559.5,0.998],[562.7,1.0013],[565.1,1.0034],[567.9,1.0065],[570.3,1.004],[573.1,1.004],[576.2,1.0007],[578.6,1.002],[581.7,1.003],[584.9,1.000],
  [587.3,1.002],[589.6,1.004],[592,1.002],[593.6,0.996],[595.2,1.0007],[597.5,1.001],[600,1.001],[602,0.9997],[604,0.9976],[606.4,0.9955],
  [608.8,0.996],[611.1,0.9986],[613.5,1.004],[615.9,1.0065],[618.3,1.005],[620.3,1.006],[621.9,1.003],[623.5,1.001],[624.7,0.9965],[626.7,0.996],
  [628.7,0.995],[630.3,0.992],[631.5,0.994],[632.6,0.993],[633.4,0.9876],
];

const FONT = "'DejaVu Sans', 'Liberation Sans', sans-serif";

type Style = { name: string; label: string; data: Pt[]; color: string; width: number; dash?: string };

// back to front
const SERIES: Style[] = [
  { name: 'Fontenla', label: 'Fontenla/Pilewskie 2006', data: FONTENLA, color: '#00ee00', width: 2.2 },
  { name: 'Atlas', label: 'Atlas_SUSIM', data: ATLAS_SUSIM, color: '#cc8a1a', width: 2.2 },
  { name: 'Bernhard', label: 'Bernhard 2004', data: BERNHARD, color: '#1a4dff', width: 2.2, dash: '4 3' },
  { name: 'KuruczOld', label: 'Kurucz_old', data: KURUCZ_OLD, color: '#00ffff', width: 2.2, dash: '4 3' },
  { name: 'KuruczNew', label: 'Kurucz_new', data: KURUCZ_NEW, color: '#00ffff', width: 2.4 },
  { name: 'Thuillier', label: 'Thullier v9_c', data: THUILLIER, color: '#0000ff', width: 2.2 },
  { name: 'AER1999', label: 'AER1999', data: AER1999, color: '#ff2a2a', width: 1.8, dash: '4 3' },
  { name: 'AER2000', label: 'AER2000', data: AER2000, color: '#ff0000', width: 2.2 },
  { name: 'RSS103', label: 'RSS103   1997/1998', data: RSS103, color: '#000000', width: 3.2, dash: '2 2' },
  { name: 'RSS102', label: 'RSS102   1999/2000', data: RSS102, color: '#000000', width: 4 },
  { name: 'RSS105', label: 'RSS105   2003/2005', data: RSS105, color: '#ff00cc', width: 4 },
];

const byName = (n: string) => SERIES.find((s) => s.name === n)!;

const LEGEND_TOP = ['RSS105', 'RSS102', 'RSS103'];
const LEGEND_BOTTOM = ['AER1999', 'AER2000', 'KuruczOld', 'KuruczNew', '', 'Atlas', 'Thuillier', 'Fontenla', 'Bernhard'];

const rows = (pts: Pt[]) => pts.map(([x, y]) => ({ x, y }));

function Sample({ s, w }: { s: Style; w: number }) {
  return (
    <svg width={w} height={10} style={{ display: 'block' }}>
      <line x1={0} y1={5} x2={w} y2={5} stroke={s.color} strokeWidth={Math.min(s.width, 3.5)} strokeDasharray={s.dash} />
    </svg>
  );
}

function LegendBox({ names, left, top, width, height, rowH, sampleW, textX, spacing }: {
  names: string[]; left: number; top: number; width: number; height: number;
  rowH: number; sampleW: number; textX: number; spacing: number;
}) {
  return (
    <div style={{ position: 'absolute', left, top, width, height, background: '#ffc0c0' }}>
      {names.map((n, i) => (
        <div key={i} style={{ height: rowH, display: 'flex', alignItems: 'center', position: 'relative' }}>
          {n && (
            <>
              <div style={{ position: 'absolute', left: 6 }}><Sample s={byName(n)} w={sampleW} /></div>
              <span style={{ position: 'absolute', left: textX, whiteSpace: 'pre', fontSize: 27, lineHeight: 1, letterSpacing: spacing }}>
                {byName(n).label}
              </span>
            </>
          )}
        </div>
      ))}
    </div>
  );
}

export default function App() {
  const tickStyle = { fill: '#000', fontSize: 26, fontFamily: FONT };
  return (
    <div style={{ position: 'absolute', left: 0, top: 0, width: 1885, height: 1086, background: '#fff', fontFamily: FONT, color: '#000' }}>
      <LineChart width={1885} height={1086} margin={{ top: 22, right: 34, bottom: 49, left: 94 }}>
        <CartesianGrid stroke="#000" strokeWidth={1.5} />
        <XAxis
          type="number"
          dataKey="x"
          domain={[300, 700]}
          ticks={WL_TICKS}
          allowDataOverflow
          height={60}
          tickSize={25}
          tickMargin={20}
          tick={tickStyle}
          tickLine={{ stroke: '#000', strokeWidth: 2.5 }}
          axisLine={false}
        />
        <YAxis
          type="number"
          domain={[0.85, 1.15]}
          ticks={RATIO_TICKS}
          allowDataOverflow
          width={80}
          tickSize={24}
          tickMargin={12}
          tickFormatter={(v: number) => v.toFixed(2)}
          tick={tickStyle}
          tickLine={{ stroke: '#000', strokeWidth: 3 }}
          axisLine={false}
        />
        {SERIES.map((s) => (
          <Line
            key={s.name}
            data={rows(s.data)}
            dataKey="y"
            name={s.label}
            stroke={s.color}
            strokeWidth={s.width}
            strokeDasharray={s.dash}
            dot={false}
            activeDot={false}
            isAnimationActive={false}
            connectNulls={false}
          />
        ))}
      </LineChart>

      {/* double frame around the plot */}
      <div style={{ position: 'absolute', left: 172, top: 20, width: 1681, height: 959, border: '2.5px solid #000', boxSizing: 'border-box', pointerEvents: 'none' }} />
      <div style={{ position: 'absolute', left: 168, top: 16, width: 1689, height: 967, border: '2.5px solid #000', boxSizing: 'border-box', pointerEvents: 'none' }} />

      {/* title */}
      <div style={{ position: 'absolute', left: 638, top: 53, width: 677, height: 74, background: '#c0ffff', fontSize: 26.4, lineHeight: '35px' }}>
        <div style={{ paddingLeft: 2, whiteSpace: 'pre' }}>Comparison of ET Spetcra at FWHM=10nm Boxcar</div>
        <div style={{ paddingLeft: 66, whiteSpace: 'pre' }}>All spectra ratioed by Gueymard 2003</div>
      </div>

      <LegendBox names={LEGEND_TOP} left={1391} top={168} width={362} height={111} rowH={37} sampleW={60} textX={78} spacing={0.6} />
      <LegendBox names={LEGEND_BOTTOM} left={1379} top={616} width={405} height={329} rowH={36.6} sampleW={55} textX={76} spacing={0} />

      <div style={{ position: 'absolute', left: 26, top: 500, transform: 'translate(-50%, -50%) rotate(-90deg)', fontSize: 26 }}>Ratio</div>
      <div style={{ position: 'absolute', left: 1013, top: 1066, transform: 'translate(-50%, -50%)', fontSize: 26 }}>Wavelength</div>
    </div>
  );
}
